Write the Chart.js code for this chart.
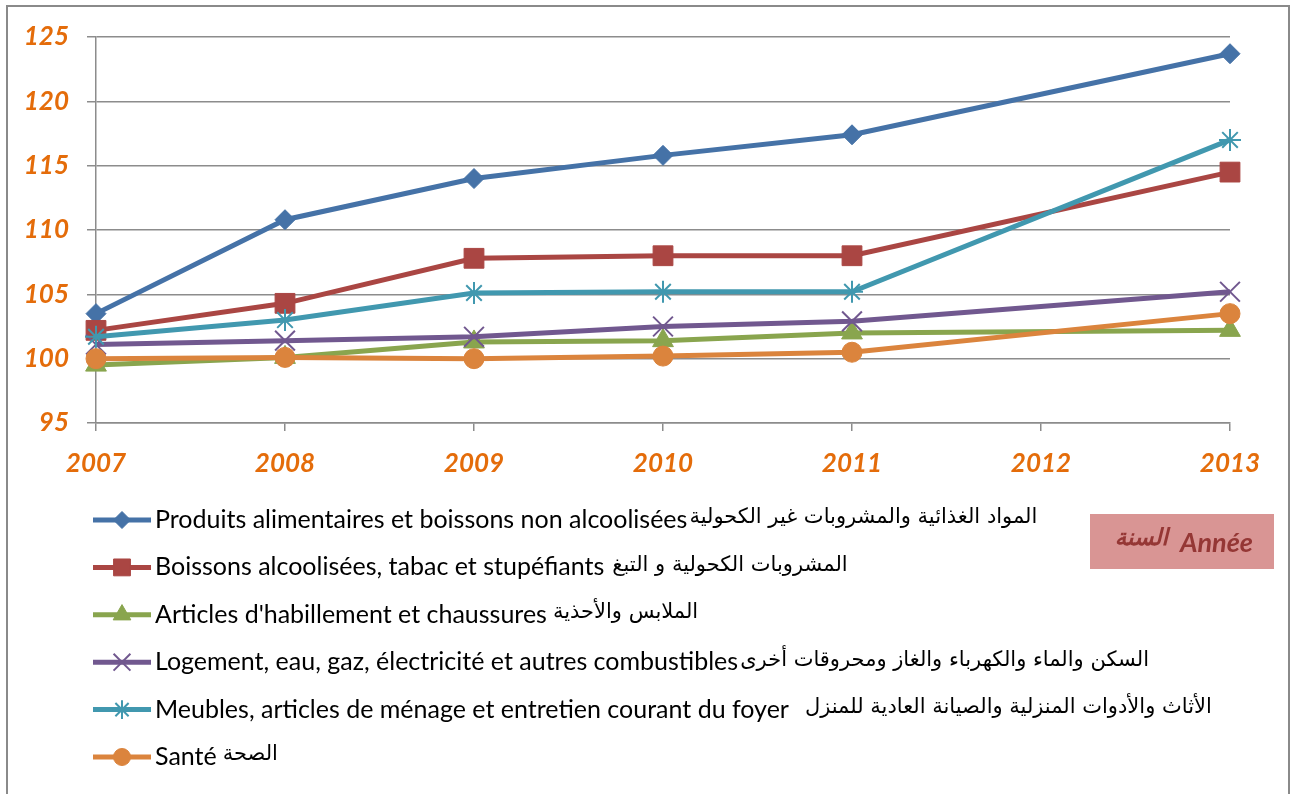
<!DOCTYPE html>
<html>
<head>
<meta charset="utf-8">
<script src="https://cdn.jsdelivr.net/npm/chart.js@4.4.1/dist/chart.umd.min.js"></script>
<style>
  html, body { margin: 0; padding: 0; background: #fff; }
  #wrap { width: 1292px; height: 794px; }
</style>
</head>
<body>
<div id="wrap"><canvas id="chart" width="1292" height="794"></canvas></div>
<script>
// ---------------------------------------------------------------------------
// Data (indices 2007 = 100 base; 2012 has no point)
// ---------------------------------------------------------------------------
const years = ["2007", "2008", "2009", "2010", "2011", "2012", "2013"];

const food     = [103.5, 110.8, 114.0, 115.8, 117.4, null, 123.7];
const alcohol  = [102.2, 104.3, 107.8, 108.0, 108.0, null, 114.5];
const clothing = [99.5, 100.1, 101.3, 101.4, 102.0, null, 102.2];
const housing  = [101.1, 101.4, 101.7, 102.5, 102.9, null, 105.2];
const furnish  = [101.7, 103.0, 105.1, 105.2, 105.2, null, 117.0];
const health   = [100.0, 100.1, 100.0, 100.2, 100.5, null, 103.5];

const labelsFr = [
  "Produits alimentaires et boissons non alcoolisées",
  "Boissons alcoolisées, tabac et stupéfiants",
  "Articles d'habillement et chaussures",
  "Logement, eau, gaz, électricité et autres combustibles",
  "Meubles, articles de ménage et entretien courant du foyer",
  "Santé",
];
const labelsAr = [
  "المواد الغذائية والمشروبات غير الكحولية",
  "المشروبات الكحولية و التبغ",
  "الملابس والأحذية",
  "السكن والماء والكهرباء والغاز ومحروقات أخرى",
  "الأثاث والأدوات المنزلية والصيانة العادية للمنزل",
  "الصحة",
];
const arGap = [2, 8, 6, 2, 16, 6];

const colors = ["#4572A7", "#AA4643", "#89A54E", "#71588F", "#4198AF", "#DB843D"];
const markers = ["rectRot", "rect", "triangle", "crossRot", "star", "circle"];
const markerSizes = [10, 14, 12, 14, 11, 10];

const ORANGE = "#E46C0A";
const GRID = "#8c8c8c";

// ---------------------------------------------------------------------------
// Plugins: frame, legend and "Année" box
// ---------------------------------------------------------------------------
const framePlugin = {
  id: "frame",
  beforeDraw(chart) {
    const ctx = chart.ctx;
    ctx.save();
    ctx.fillStyle = "#fff";
    ctx.fillRect(0, 0, chart.width, chart.height);
    ctx.strokeStyle = "#8a8a8a";
    ctx.lineWidth = 2;
    ctx.strokeRect(7, 6, 1282, 820);
    ctx.restore();
  },
};

const legendPlugin = {
  id: "customLegend",
  afterDraw(chart) {
    const ctx = chart.ctx;
    const top = 520;
    const step = 47.4;
    ctx.save();
    chart.data.datasets.forEach((ds, i) => {
      const y = top + i * step;
      ctx.strokeStyle = ds.borderColor;
      ctx.lineWidth = 5;
      ctx.beginPath();
      ctx.moveTo(93, y);
      ctx.lineTo(151, y);
      ctx.stroke();

      ctx.fillStyle = ds.pointBackgroundColor;
      ctx.strokeStyle = ds.pointBorderColor;
      ctx.lineWidth = ds.pointBorderWidth;
      Chart.helpers.drawPoint(ctx, {
        pointStyle: ds.pointStyle,
        radius: ds.pointRadius * 0.85,
        borderWidth: ds.pointBorderWidth,
        rotation: 0,
      }, 122, y);

      ctx.fillStyle = "#000";
      ctx.textBaseline = "middle";
      ctx.textAlign = "left";
      ctx.font = "25px Lato, 'DejaVu Sans', sans-serif";
      ctx.fillText(labelsFr[i], 155, y);
      const w = ctx.measureText(labelsFr[i]).width;
      ctx.font = "21px 'DejaVu Sans', sans-serif";
      ctx.fillText(labelsAr[i], 155 + w + arGap[i], y - 2);
    });

    // "Année" box
    ctx.fillStyle = "#D99594";
    ctx.fillRect(1090, 514, 184, 55);
    ctx.fillStyle = "#953735";
    ctx.textBaseline = "middle";
    ctx.textAlign = "right";
    ctx.font = "bold italic 27px Lato, sans-serif";
    ctx.fillText("Année", 1253, 543);
    const aw = ctx.measureText("Année").width;
    ctx.font = "bold italic 23px 'DejaVu Sans', sans-serif";
    ctx.fillText("السنة", 1253 - aw - 12, 539);
    ctx.restore();
  },
};

// ---------------------------------------------------------------------------
// Chart
// ---------------------------------------------------------------------------
const series = [food, alcohol, clothing, housing, furnish, health];

const datasets = series.map((data, i) => ({
  label: labelsFr[i] + " " + labelsAr[i],
  data,
  borderColor: colors[i],
  backgroundColor: colors[i],
  borderWidth: 5,
  pointStyle: markers[i],
  pointRadius: markerSizes[i],
  pointHoverRadius: markerSizes[i],
  pointBackgroundColor: colors[i],
  pointBorderColor: colors[i],
  pointBorderWidth: markers[i] === "crossRot" || markers[i] === "star" ? 2 : 1,
  spanGaps: true,
  tension: 0,
  order: series.length - i,
}));

new Chart(document.getElementById("chart"), {
  type: "line",
  data: { labels: years, datasets },
  plugins: [framePlugin, legendPlugin],
  options: {
    responsive: false,
    animation: false,
    layout: { padding: { top: 37, right: 62, bottom: 311, left: 0 } },
    plugins: {
      legend: { display: false },
      tooltip: { enabled: false },
    },
    scales: {
      x: {
        offset: false,
        afterFit: (scale) => { scale.height = 60; },
        grid: { drawOnChartArea: false, drawTicks: true, tickLength: 8, color: GRID, lineWidth: 1.5 },
        border: { display: true, color: GRID, width: 1.5 },
        ticks: {
          color: ORANGE,
          padding: 17,
          maxRotation: 0,
          autoSkip: false,
          font: { family: "Lato, sans-serif", size: 26, weight: "bold", style: "italic" },
        },
      },
      y: {
        min: 95,
        max: 125,
        afterFit: (scale) => { scale.width = 96; },
        grid: { color: GRID, lineWidth: 1.5, tickLength: 9 },
        border: { display: true, color: GRID, width: 1.5 },
        ticks: {
          stepSize: 5,
          color: ORANGE,
          padding: 18,
          font: { family: "Lato, sans-serif", size: 26, weight: "bold", style: "italic" },
        },
      },
    },
  },
});
</script>
</body>
</html>
